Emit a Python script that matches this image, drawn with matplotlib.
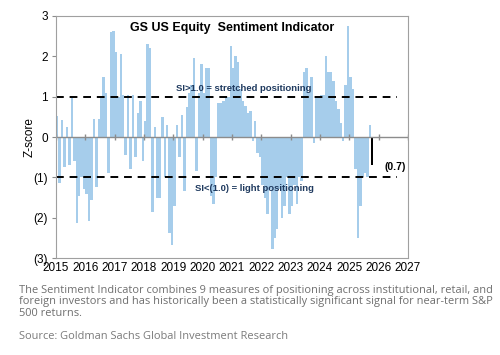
import numpy as np
import matplotlib.pyplot as plt

# monthly GS US equity sentiment z-score, Jan 2015 onward
z2015 = [0.53, -1.15, 0.41, -0.75, 0.25, -0.7, 0.97, -0.6, -2.14, -1.45, -1.0, -1.3]
z2016 = [-1.4, -2.07, -1.55, 0.45, -1.24, 0.45, 1.0, 1.5, 1.1, -0.9, 2.6, 2.63]
z2017 = [2.1, 1.0, 2.05, 1.05, -0.45, 1.05, -0.8, 1.05, -0.5, 0.6, 0.9, -0.6]
z2018 = [0.4, 2.3, 2.2, -1.85, 0.25, -1.5, -1.5, 0.5, -1.0, 0.3, -2.37, -2.67]
z2019 = [-1.7, 0.3, -0.5, 0.55, -1.33, 0.75, 1.1, 1.3, 1.97, -0.85, 1.1, 1.8]
z2020 = [1.1, 1.7, 1.7, -1.45, -1.65, -1.0, 0.85, 0.85, 0.9, 1.0, 1.0, 2.25]
z2021 = [1.7, 2.0, 1.85, 1.2, 0.9, 0.76, 0.6, 0.65, -0.1, 0.4, -0.4, -0.5]
z2022 = [-1.2, -1.5, -1.9, -1.3, -2.78, -2.5, -2.28, -1.3, -2.0, -1.7, -1.0, -1.9]
z2023 = [-1.7, -1.2, -1.65, -1.0, -1.1, 1.6, 1.7, 1.1, 1.5, -0.15, 1.0, 1.0]
z2024 = [1.05, 1.05, 2.0, 1.6, 1.6, 1.4, 0.9, 0.7, 0.35, -0.1, 1.3, 2.75]
z2025 = [1.5, 1.2, -0.8, -2.5, -1.7, -1.0, -0.9, -1.0, 0.3]
latest = -0.7

values = z2015 + z2016 + z2017 + z2018 + z2019 + z2020 + z2021 + z2022 + z2023 + z2024 + z2025
years = list(range(2015, 2028))
ytick_vals = [3, 2, 1, 0, -1, -2, -3]
ytick_labels = ["3", "2", "1", "0", "(1)", "(2)", "(3)"]

t = 2015 + np.arange(len(values)) / 12
t_last = 2015 + len(values) / 12

fig = plt.figure(figsize=(5, 3.55), dpi=100)
ax = fig.add_axes([0.112, 0.273, 0.704, 0.682])

ax.bar(t, values, width=1/12, align="edge", color="#A6CDEB", linewidth=0)
ax.bar([t_last], [latest], width=0.07, align="edge", color="black", linewidth=0)

ax.axhline(0, color="#8C8C8C", lw=1)
ax.plot(years, np.zeros(len(years)), ls="none", marker="|", ms=4, color="#8C8C8C")
ax.plot([2015, 2026.63], [1, 1], color="black", ls=(0, (4, 3)), lw=1.4)
ax.plot([2015, 2026.63], [-1, -1], color="black", ls=(0, (4, 3)), lw=1.4)

ax.set_xlim(2015, 2027)
ax.set_ylim(-3, 3)
ax.set_xticks(years)
ax.set_xticklabels([str(y) for y in years], fontsize=8.5, family="Liberation Sans")
ax.set_yticks(ytick_vals)
ax.set_yticklabels(ytick_labels, fontsize=8.5, family="Liberation Sans")
ax.tick_params(axis="x", length=0, pad=3)
ax.tick_params(axis="y", length=3, color="#8C8C8C", pad=3)
for s in ax.spines.values():
    s.set_color("#A0A0A0")
ax.set_ylabel("Z-score", fontsize=8.5, family="Liberation Sans", labelpad=-2)

ax.text(2021.0, 2.7, "GS US Equity  Sentiment Indicator", ha="center", va="center",
        fontsize=9, fontweight="bold", family="Liberation Sans")
ax.text(2019.09, 1.21, "SI>1.0 = stretched positioning", ha="left", va="center",
        fontsize=6.8, fontweight="bold", color="#1F3A5F", family="Liberation Sans")
ax.text(2019.74, -1.27, "SI<(1.0) = light positioning", ha="left", va="center",
        fontsize=6.8, fontweight="bold", color="#1F3A5F", family="Liberation Sans")
ax.text(2026.2, -0.75, "(0.7)", ha="left", va="center", fontsize=7.5,
        fontweight="bold", family="Liberation Sans")

cap = ("The Sentiment Indicator combines 9 measures of positioning across institutional, retail, and\n"
       "foreign investors and has historically been a statistically significant signal for near-term S&P\n"
       "500 returns.")
fig.text(0.038, 0.197, cap, ha="left", va="top", fontsize=7.9, color="#6E6E6E",
         family="Open Sans", linespacing=1.05)
fig.text(0.038, 0.051, "Source: Goldman Sachs Global Investment Research", ha="left",
         va="center", fontsize=7.9, color="#7A7A7A", family="Open Sans")

fig.savefig("out.png", dpi=100)
